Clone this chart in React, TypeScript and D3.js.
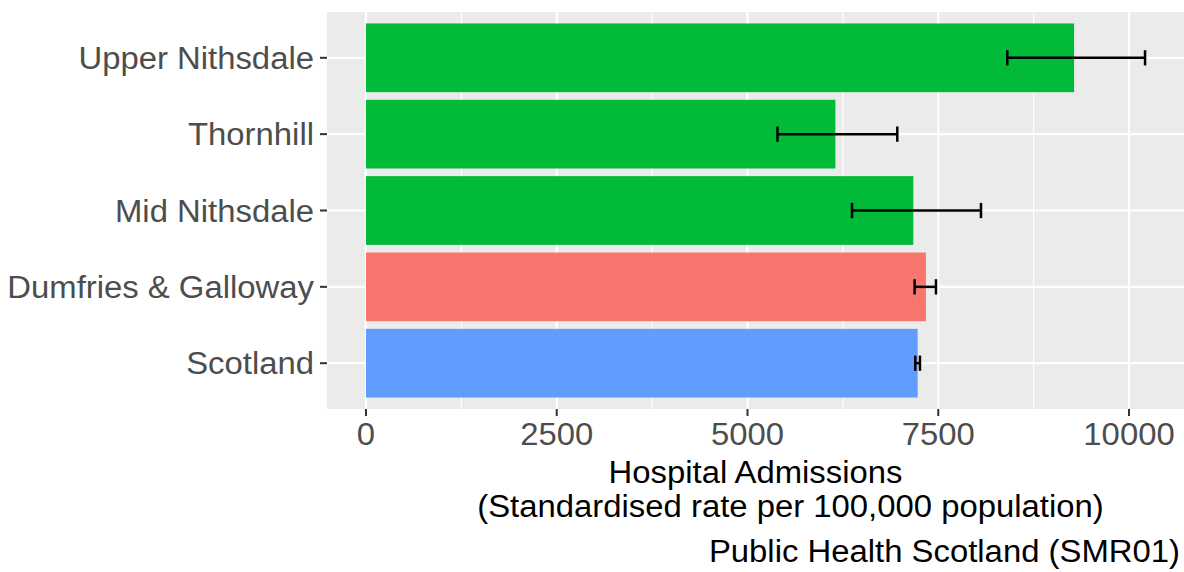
import React from "react";
import * as d3 from "d3";

const categories = ["Upper Nithsdale", "Thornhill", "Mid Nithsdale", "Dumfries & Galloway", "Scotland"];
const rates = [9280, 6152, 7173, 7338, 7230];
const lowerCI = [8405, 5393, 6370, 7190, 7199];
const upperCI = [10210, 6963, 8060, 7470, 7260];
const barColors = ["#00BA38", "#00BA38", "#00BA38", "#F8766D", "#619CFF"];
const xTicks = [0, 2500, 5000, 7500, 10000];
const xMinor = [1250, 3750, 6250, 8750];
const xTitle1 = "Hospital Admissions";
const xTitle2 = "(Standardised rate per 100,000 population)";
const caption = "Public Health Scotland (SMR01)";

const W = 1184;
const H = 572;
const panel = { left: 327, right: 1184, top: 12, bottom: 409 };
const FONT = "'Liberation Sans', Arial, Helvetica, sans-serif";
const FS = 31;
const SX = 1.06;

function T(props: { x: number; y: number; anchor: string; fill: string; children: React.ReactNode }) {
  return (
    <text
      transform={`translate(${props.x},${props.y}) scale(${SX},1)`}
      textAnchor={props.anchor}
      fontSize={FS}
      fill={props.fill}
    >
      {props.children}
    </text>
  );
}

export default function App() {
  const maxV = d3.max(upperCI) as number;
  const exp = maxV * 0.05;
  const x = d3.scaleLinear().domain([-exp, maxV + exp]).range([panel.left, panel.right]);
  const y = d3.scalePoint<string>().domain(categories).range([panel.top, panel.bottom]).padding(0.6);
  const step = y.step();
  const barH = step * 0.9;
  const capH = step * 0.2;
  const midX = (panel.left + panel.right) / 2;

  return (
    <svg width={W} height={H} style={{ position: "absolute", left: 0, top: 0, background: "#fff" }} fontFamily={FONT}>
      <rect x={panel.left} y={panel.top} width={panel.right - panel.left} height={panel.bottom - panel.top} fill="#EBEBEB" />
      {xMinor.map((v) => (
        <line key={"mn" + v} x1={x(v)} x2={x(v)} y1={panel.top} y2={panel.bottom} stroke="#fff" strokeWidth={1.1} />
      ))}
      {xTicks.map((v) => (
        <line key={"mj" + v} x1={x(v)} x2={x(v)} y1={panel.top} y2={panel.bottom} stroke="#fff" strokeWidth={2.2} />
      ))}
      {categories.map((c) => (
        <line key={"hy" + c} x1={panel.left} x2={panel.right} y1={y(c)} y2={y(c)} stroke="#fff" strokeWidth={2.2} />
      ))}
      {categories.map((c, i) => (
        <rect key={"b" + c} x={x(0)} y={(y(c) as number) - barH / 2} width={x(rates[i]) - x(0)} height={barH} fill={barColors[i]} />
      ))}
      {categories.map((c, i) => {
        const cy = y(c) as number;
        return (
          <g key={"e" + c} stroke="#000" strokeWidth={2.5}>
            <line x1={x(lowerCI[i])} x2={x(upperCI[i])} y1={cy} y2={cy} />
            <line x1={x(lowerCI[i])} x2={x(lowerCI[i])} y1={cy - capH / 2} y2={cy + capH / 2} />
            <line x1={x(upperCI[i])} x2={x(upperCI[i])} y1={cy - capH / 2} y2={cy + capH / 2} />
          </g>
        );
      })}
      {categories.map((c) => (
        <g key={"yt" + c}>
          <line x1={panel.left - 7} x2={panel.left} y1={y(c)} y2={y(c)} stroke="#333" strokeWidth={2} />
          <T x={panel.left - 13} y={(y(c) as number) + 11} anchor="end" fill="#4D4D4D">{c}</T>
        </g>
      ))}
      {xTicks.map((v) => (
        <g key={"xt" + v}>
          <line x1={x(v)} x2={x(v)} y1={panel.bottom} y2={panel.bottom + 7} stroke="#333" strokeWidth={2} />
          <T x={x(v)} y={445} anchor="middle" fill="#4D4D4D">{d3.format("d")(v)}</T>
        </g>
      ))}
      <T x={midX} y={483} anchor="middle" fill="#000">{xTitle1}</T>
      <T x={midX + 35} y={517} anchor="middle" fill="#000">{xTitle2}</T>
      <T x={1180} y={562} anchor="end" fill="#000">{caption}</T>
    </svg>
  );
}
